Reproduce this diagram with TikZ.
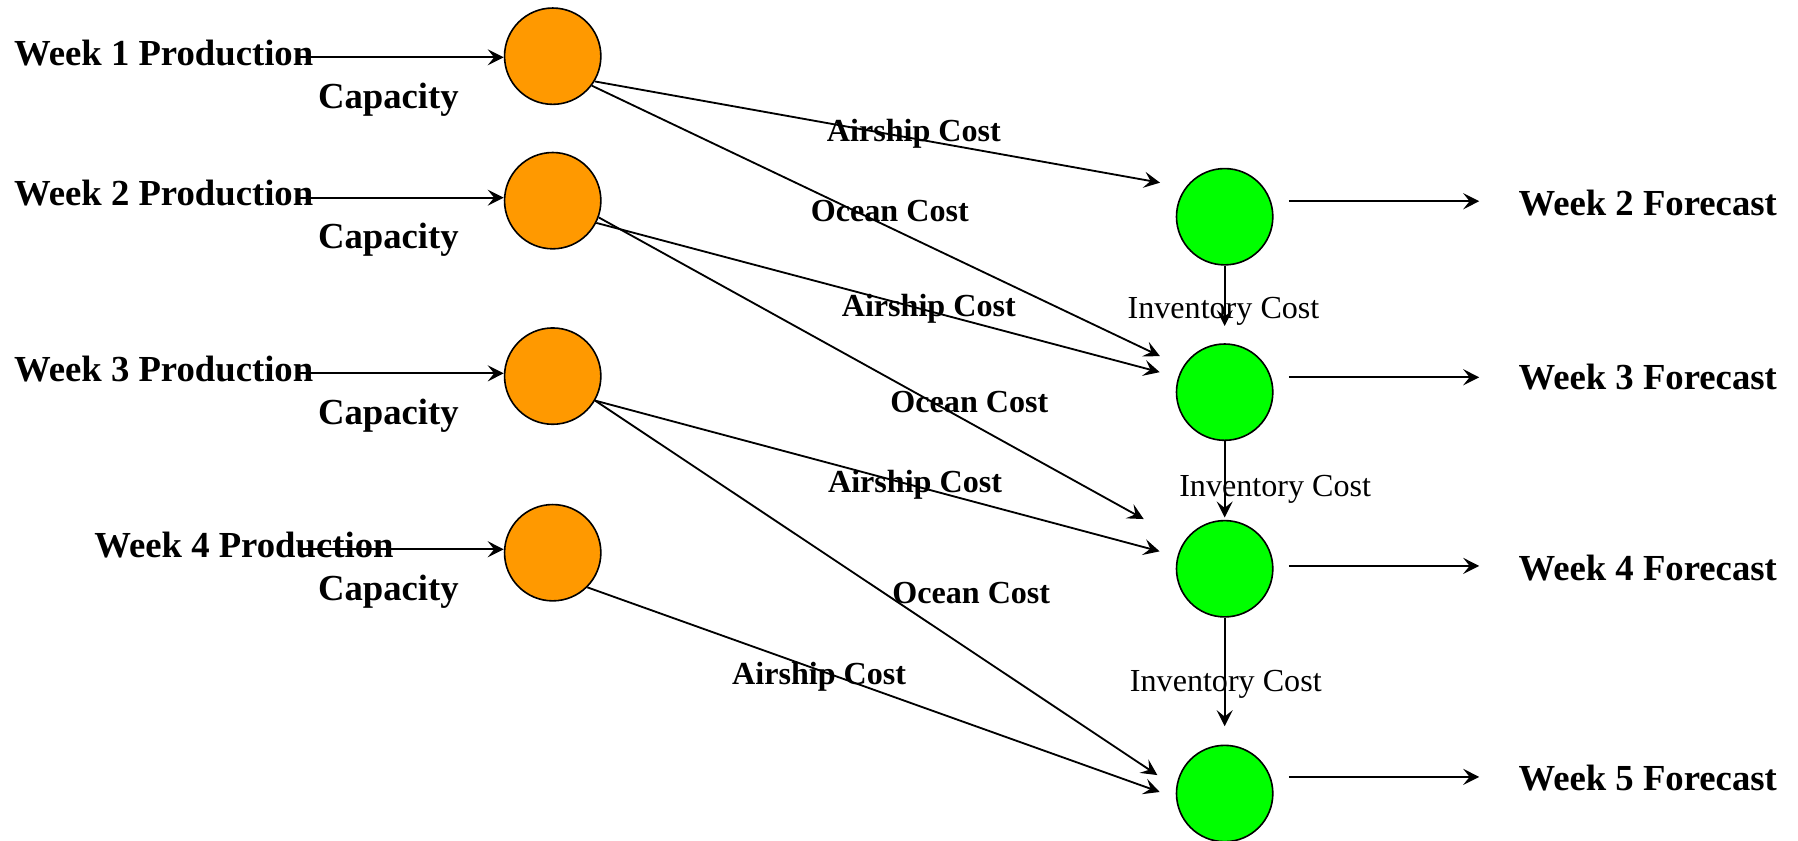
\documentclass[tikz,border=0pt]{standalone}
\usepackage{fontspec}
\setmainfont{Liberation Serif}
\usetikzlibrary{arrows.meta}
\definecolor{orangeC}{HTML}{FF9900}
\definecolor{greenC}{HTML}{00FF00}
\begin{document}
\begin{tikzpicture}[x=0.5pt,y=-0.5pt,
  arr/.style={draw, line width=0.8pt, -{Stealth[length=7pt,width=7pt,inset=2.8pt]}},
  src/.style={circle, draw, line width=0.7pt, fill=orangeC, minimum size=42pt, inner sep=0pt},
  dst/.style={circle, draw, line width=0.7pt, fill=greenC, minimum size=42pt, inner sep=0pt},
  big/.style={inner sep=0pt, anchor=base west, font=\fontsize{16}{19}\selectfont\bfseries},
  cost/.style={inner sep=0pt, anchor=base, font=\fontsize{14}{17}\selectfont\bfseries},
  inv/.style={inner sep=0pt, anchor=base, font=\fontsize{14}{17}\selectfont}]
\useasboundingbox (0,0) rectangle (1568,733);

% source nodes
\node[src] (O1) at (482,49) {};
\node[src] (O2) at (482,175) {};
\node[src] (O3) at (482,328) {};
\node[src] (O4) at (482,482) {};
% demand nodes
\node[dst] (G2) at (1068,189) {};
\node[dst] (G3) at (1068,342) {};
\node[dst] (G4) at (1068,496) {};
\node[dst] (G5) at (1068,692) {};

% production labels
\node[big] (W1) at (12,57) {Week 1 Production};
\node[big] (C1) at (277,94.5) {Capacity};
\node[big] (W2) at (12,179) {Week 2 Production};
\node[big] (C2) at (277,216.6) {Capacity};
\node[big] (W3) at (12,333) {Week 3 Production};
\node[big] (C3) at (277,370.6) {Capacity};
\node[big] (W4) at (82,486.3) {Week 4 Production};
\node[big] (C4) at (277,523.3) {Capacity};

% forecast labels
\node[big] (F2) at (1324,188) {Week 2 Forecast};
\node[big] (F3) at (1324,340) {Week 3 Forecast};
\node[big] (F4) at (1324,506) {Week 4 Forecast};
\node[big] (F5) at (1324,689) {Week 5 Forecast};

% production arrows
\coordinate (s1) at (260,50);
\coordinate (s2) at (260,172.4);
\coordinate (s3) at (260,325.6);
\coordinate (s4) at (260,479);
\draw[arr] (s1) -- (s1 -| O1.west);
\draw[arr] (s2) -- (s2 -| O2.west);
\draw[arr] (s3) -- (s3 -| O3.west);
\draw[arr] (s4) -- (s4 -| O4.west);

% forecast arrows
\coordinate (fa2) at (1124,175.5); \coordinate (fb2) at (1290,175.5);
\coordinate (fa3) at (1124,329);   \coordinate (fb3) at (1290,329);
\coordinate (fa4) at (1124,493.5); \coordinate (fb4) at (1290,493.5);
\coordinate (fa5) at (1124,677.5); \coordinate (fb5) at (1290,677.5);
\draw[arr] (fa2) -- (fb2);
\draw[arr] (fa3) -- (fb3);
\draw[arr] (fa4) -- (fb4);
\draw[arr] (fa5) -- (fb5);

% inventory arrows
\draw[arr, shorten >=7.5pt] (G2.south) -- (G3.north);
\draw[arr, shorten >=1pt] (G3.south) -- (G4.north);
\draw[arr, shorten >=8pt] (G4.south) -- (G5.north);
\node[inv] (I1) at (1067,277.6) {Inventory Cost};
\node[inv] (I2) at (1112,432.6) {Inventory Cost};
\node[inv] (I3) at (1069,603.2) {Inventory Cost};

% shipping arrows
\draw[arr, shorten >=11.3pt] (O1.-31) -- (G2.143.4);
\draw[arr, shorten >=11pt]   (O1.-37) -- (G3.149.2);
\draw[arr, shorten >=8.3pt]  (O2.-27) -- (G3.162.3);
\draw[arr, shorten >=20.1pt] (O2.-20) -- (G4.146);
\draw[arr, shorten >=8pt]    (O3.-30) -- (G4.165);
\draw[arr, shorten >=9.8pt]  (O3.-30) -- (G5.173);
\draw[arr, shorten >=7.5pt]  (O4.-45) -- (G5.-175.2);

% cost labels
\node[cost] (A1) at (797,123) {Airship Cost};
\node[cost] (B1) at (776,193.3) {Ocean Cost};
\node[cost] (A2) at (810,276.2) {Airship Cost};
\node[cost] (B2) at (845.4,359.6) {Ocean Cost};
\node[cost] (A3) at (798,429.7) {Airship Cost};
\node[cost] (B3) at (847,526.7) {Ocean Cost};
\node[cost] (A4) at (714.4,596.5) {Airship Cost};
\end{tikzpicture}
\end{document}
